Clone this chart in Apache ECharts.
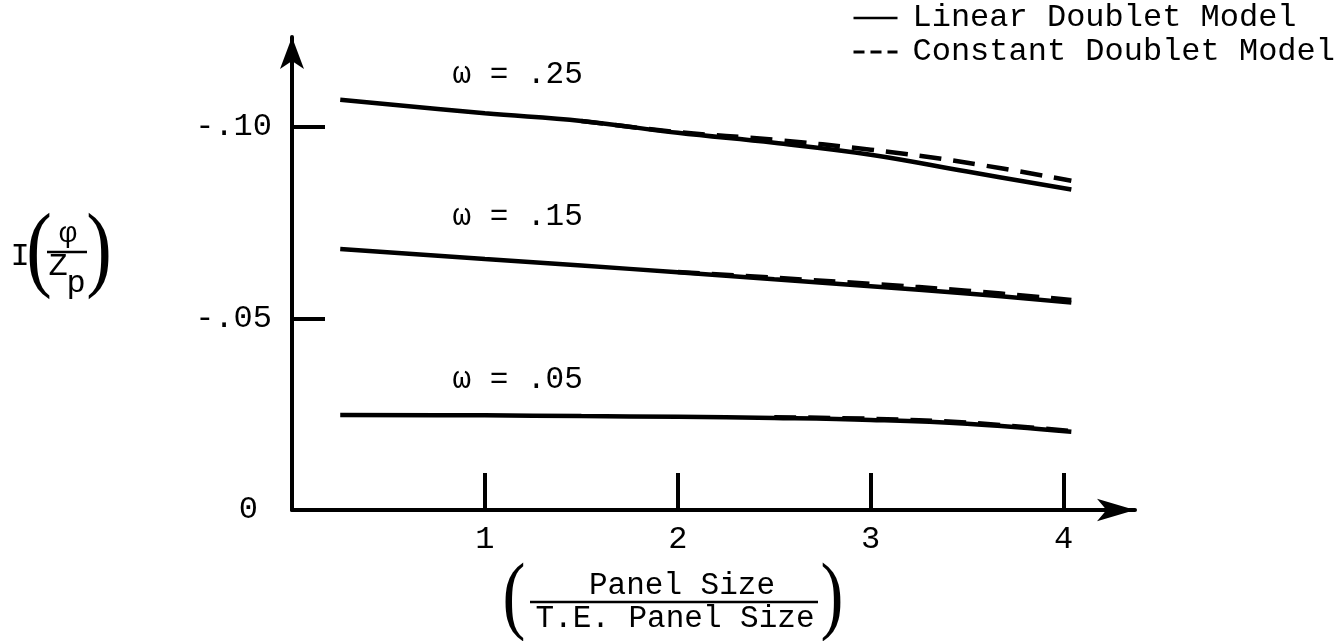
<!DOCTYPE html>
<html>
<head>
<meta charset="utf-8">
<script src="https://cdn.jsdelivr.net/npm/echarts@6/dist/echarts.min.js"></script>
<style>
  html, body { margin: 0; background: #fff; }
  #chart { width: 1341px; height: 641px; }
</style>
</head>
<body>
<div id="chart"></div>
<script>
// panel size ratio (x) and I(phi/Zp) values
const linearX = [0.25, 1.0, 1.5, 2.0, 2.5, 3.0, 3.5, 4.04]
const linear25 = [-0.1070, -0.1035, -0.1015, -0.0984, -0.0958, -0.0927, -0.0883, -0.0836]
const linear15 = [-0.0681, -0.0655, -0.0638, -0.0620, -0.0602, -0.0584, -0.0565, -0.0541]
const linear05 = [-0.0248, -0.0247, -0.0245, -0.0243, -0.0240, -0.0235, -0.0225, -0.0204]

const constX25 = [1.5, 2.0, 2.5, 3.0, 3.5, 4.04]
const const25 = [-0.1015, -0.0986, -0.0966, -0.0940, -0.0906, -0.0859]
const constX15 = [2.0, 2.5, 3.0, 3.5, 4.04]
const const15 = [-0.0621, -0.0606, -0.0590, -0.0572, -0.0548]
const constX05 = [2.5, 3.0, 3.5, 4.04]
const const05 = [-0.0242, -0.0238, -0.0228, -0.0206]

// curve labels
const omegaNames = ['ω = .25', 'ω = .15', 'ω = .05']
const omegaX = [1.17, 1.17, 1.17]
const omegaY = [-0.1136, -0.0765, -0.0339]

// ticks
const xTicks = [1, 2, 3, 4]
const yTicks = [-0.10, -0.05]
const yLabels = [-0.10, -0.05, 0]

const MONO = '"Liberation Mono", "DejaVu Sans Mono", monospace'
const PAREN = '"Liberation Serif", serif'
const pairs = (xs, ys) => xs.map((x, i) => [x, ys[i]])

const chart = echarts.init(document.getElementById('chart'))

const solid = (data) => ({
  name: 'Linear Doublet Model',
  type: 'line',
  data: data,
  symbol: 'none',
  smooth: 0.4,
  silent: true,
  color: '#000',
  lineStyle: { color: '#000', width: 4.5 }
})
const dashed = (data) => ({
  name: 'Constant Doublet Model',
  type: 'line',
  data: data,
  symbol: 'none',
  smooth: 0.4,
  silent: true,
  color: '#000',
  lineStyle: { color: '#000', width: 4.5, type: [22, 12] }
})

const txt = (x, y, text, size, font, extra) =>
  Object.assign({
    type: 'text', x: x, y: y,
    style: { text: text, fontFamily: font, fontSize: size, fill: '#000', align: 'center', verticalAlign: 'middle' }
  }, extra || {})

const option = {
  animation: false,
  backgroundColor: '#fff',
  grid: { left: 292, right: 206, top: 37, bottom: 131 },
  legend: {
    orient: 'vertical',
    left: 852,
    top: 2,
    padding: 0,
    itemGap: 2,
    itemWidth: 44,
    itemHeight: 14,
    textStyle: { fontFamily: MONO, fontSize: 32, color: '#000', padding: [0, 0, 0, 10] },
    data: [
      { name: 'Linear Doublet Model', itemStyle: { opacity: 0 }, lineStyle: { width: 2.5, color: '#000' } },
      { name: 'Constant Doublet Model', itemStyle: { opacity: 0 }, lineStyle: { width: 3, color: '#000', type: [11, 6] } }
    ]
  },
  xAxis: {
    type: 'value',
    min: 0,
    max: 4.37,
    splitLine: { show: false },
    axisLine: {
      onZero: true,
      symbol: ['none', 'arrow'],
      symbolSize: [17, 38],
      lineStyle: { color: '#000', width: 4 }
    },
    axisTick: {
      show: true,
      inside: true,
      length: 37,
      customValues: xTicks,
      lineStyle: { color: '#000', width: 4 }
    },
    axisLabel: {
      customValues: xTicks,
      margin: 14,
      fontFamily: MONO,
      fontSize: 32,
      color: '#000'
    }
  },
  yAxis: {
    type: 'value',
    inverse: true,
    min: -0.1234,
    max: 0,
    splitLine: { show: false },
    axisLine: {
      show: true,
      onZero: true,
      symbol: ['none', 'arrow'],
      symbolSize: [18, 32],
      lineStyle: { color: '#000', width: 4 }
    },
    axisTick: {
      show: true,
      inside: true,
      length: 33,
      customValues: yTicks,
      lineStyle: { color: '#000', width: 4 }
    },
    axisLabel: {
      customValues: yLabels,
      margin: 20,
      fontFamily: MONO,
      fontSize: 32,
      color: '#000',
      formatter: (v) => (Math.abs(v) < 1e-9 ? '{z|0}' : '-' + Math.abs(v).toFixed(2).replace('0.', '.')),
      rich: {
        z: { fontFamily: MONO, fontSize: 32, color: '#000', padding: [0, 14, 0, 0] }
      }
    }
  },
  series: [
    solid(pairs(linearX, linear25)),
    solid(pairs(linearX, linear15)),
    solid(pairs(linearX, linear05)),
    dashed(pairs(constX25, const25)),
    dashed(pairs(constX15, const15)),
    dashed(pairs(constX05, const05)),
    {
      type: 'scatter',
      symbolSize: 0,
      silent: true,
      itemStyle: { opacity: 1, color: '#000' },
      data: omegaNames.map((n, i) => ({ name: n, value: [omegaX[i], omegaY[i]] })),
      label: {
        show: true,
        position: 'inside',
        formatter: '{b}',
        fontFamily: MONO,
        fontSize: 31,
        color: '#000',
        opacity: 1
      }
    }
  ],
  graphic: [
    // y axis title  I( phi / Z_p )
    txt(20, 257, 'I', 32, MONO),
    txt(39, 254, '(', 96, PAREN, { scaleX: 0.8 }),
    txt(68, 234, 'φ', 30, MONO),
    { type: 'line', shape: { x1: 47, y1: 252, x2: 87, y2: 252 }, style: { stroke: '#000', lineWidth: 2.5 } },
    txt(58, 267, 'Z', 32, MONO),
    txt(76, 284, 'p', 32, MONO),
    txt(99, 254, ')', 96, PAREN, { scaleX: 0.8 }),
    // x axis title  ( Panel Size / T.E. Panel Size )
    txt(514, 600, '(', 86, PAREN, { scaleX: 0.8 }),
    txt(682, 586, 'Panel Size', 31, MONO),
    { type: 'line', shape: { x1: 530, y1: 602, x2: 818, y2: 602 }, style: { stroke: '#000', lineWidth: 2.5 } },
    txt(675, 619, 'T.E. Panel Size', 31, MONO),
    txt(832, 600, ')', 86, PAREN, { scaleX: 0.8 })
  ]
}

chart.setOption(option)
</script>
</body>
</html>
